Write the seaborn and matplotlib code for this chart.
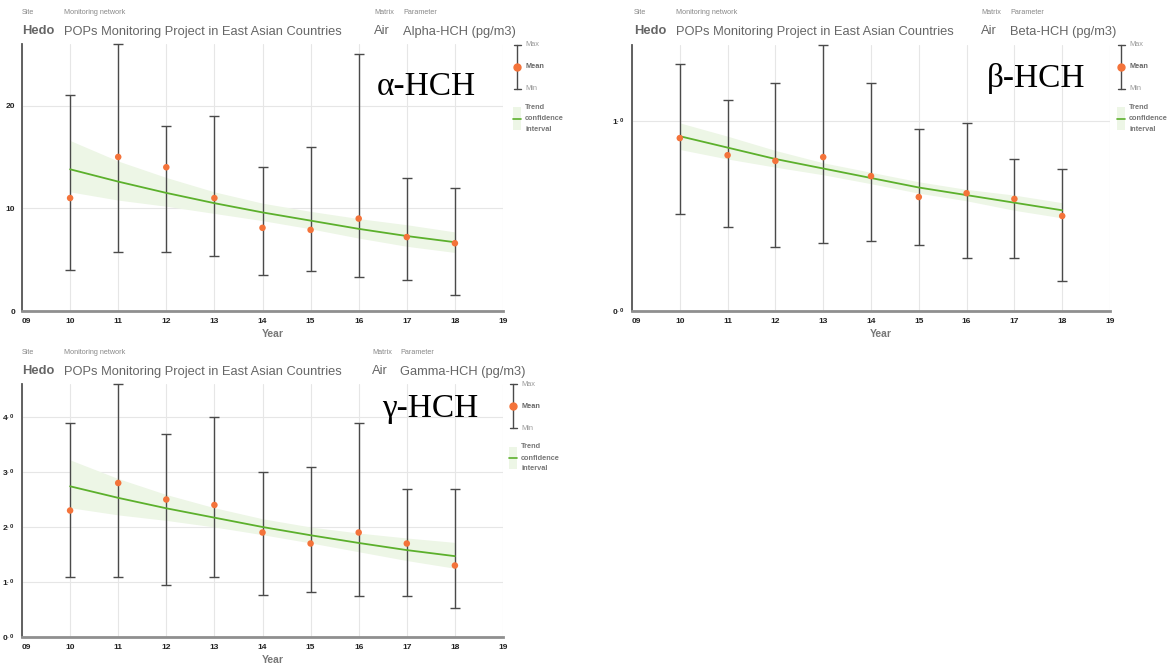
import matplotlib
matplotlib.use("Agg")
import pandas as pd
import matplotlib.pyplot as plt
import seaborn as sns
from matplotlib.lines import Line2D
from matplotlib.patches import Rectangle

# ---- data ----
years = [2010, 2011, 2012, 2013, 2014, 2015, 2016, 2017, 2018]
axis_years = list(range(2009, 2020))

alpha_mean = [11.0, 15.0, 14.0, 11.0, 8.1, 7.9, 9.0, 7.2, 6.6]
alpha_max = [21.0, 26.0, 18.0, 19.0, 14.0, 16.0, 25.0, 13.0, 12.0]
alpha_min = [4.0, 5.7, 5.7, 5.4, 3.5, 3.9, 3.3, 3.0, 1.6]
alpha_trend = [13.8, 12.6, 11.5, 10.5, 9.6, 8.8, 8.0, 7.3, 6.7]
alpha_hi = [16.6, 14.6, 13.0, 11.6, 10.5, 9.7, 9.0, 8.4, 7.7]
alpha_lo = [11.6, 10.8, 10.2, 9.5, 8.8, 8.0, 7.1, 6.3, 5.7]

beta_mean = [0.91, 0.82, 0.79, 0.81, 0.71, 0.60, 0.62, 0.59, 0.50]
beta_max = [1.30, 1.11, 1.20, 1.40, 1.20, 0.96, 0.99, 0.80, 0.75]
beta_min = [0.51, 0.44, 0.335, 0.36, 0.37, 0.35, 0.28, 0.28, 0.16]
beta_trend = [0.92, 0.86, 0.80, 0.75, 0.70, 0.65, 0.61, 0.57, 0.53]
beta_hi = [0.99, 0.92, 0.845, 0.78, 0.73, 0.68, 0.64, 0.61, 0.57]
beta_lo = [0.85, 0.80, 0.757, 0.717, 0.67, 0.62, 0.58, 0.53, 0.49]

gamma_mean = [2.3, 2.8, 2.5, 2.4, 1.9, 1.7, 1.9, 1.7, 1.3]
gamma_max = [3.9, 4.6, 3.7, 4.0, 3.0, 3.1, 3.9, 2.7, 2.7]
gamma_min = [1.1, 1.1, 0.95, 1.1, 0.77, 0.81, 0.75, 0.75, 0.52]
gamma_trend = [2.74, 2.53, 2.34, 2.17, 2.00, 1.85, 1.71, 1.58, 1.47]
gamma_hi = [3.22, 2.88, 2.59, 2.35, 2.15, 2.00, 1.89, 1.80, 1.72]
gamma_lo = [2.35, 2.22, 2.12, 2.00, 1.86, 1.71, 1.55, 1.39, 1.25]

W, H = 1168, 666

ORANGE = "#f4733a"
GREEN = "#5cb02c"
BAND = "#edf6e6"
WHISKER = "#4a4a4a"

sns.set_theme(style="whitegrid")
plt.rcParams["font.family"] = ["Liberation Sans", "DejaVu Sans"]
plt.rcParams["mathtext.fontset"] = "custom"
plt.rcParams["mathtext.bf"] = "Liberation Sans:bold"
plt.rcParams["mathtext.rm"] = "Liberation Sans"

fig = plt.figure(figsize=(W / 100, H / 100), dpi=100)
fig.patch.set_facecolor("white")


def fx(x):
    return x / W


def fy(y):
    return 1 - y / H


def ftext(x, y, s, **kw):
    kw.setdefault("va", "center")
    kw.setdefault("ha", "left")
    fig.text(fx(x), fy(y), s, **kw)


def header(x0, y0, xs, param):
    # small captions
    ftext(x0, y0, "Site", fontsize=5.2, color="#888888")
    ftext(xs[0], y0, "Monitoring network", fontsize=5.2, color="#888888")
    ftext(xs[1], y0, "Matrix", fontsize=5.2, color="#888888")
    ftext(xs[2], y0, "Parameter", fontsize=5.2, color="#888888")
    # values
    ftext(x0, y0 + 19, "Hedo", fontsize=9.3, color="#666666", fontweight="bold")
    ftext(xs[0], y0 + 19, "POPs Monitoring Project in East Asian Countries",
          fontsize=9.3, color="#666666")
    ftext(xs[1], y0 + 19, "Air", fontsize=9.3, color="#666666")
    ftext(xs[2], y0 + 19, param, fontsize=9.3, color="#666666")


def legend(x, y):
    # errorbar symbol
    fig.add_artist(Line2D([fx(x), fx(x)], [fy(y), fy(y + 44)], color=WHISKER, lw=1.0))
    for yy in (y, y + 44):
        fig.add_artist(Line2D([fx(x - 3.5), fx(x + 3.5)], [fy(yy), fy(yy)],
                              color=WHISKER, lw=1.0))
    fig.add_artist(Line2D([fx(x)], [fy(y + 22)], marker="o", ms=5, color=ORANGE, lw=0))
    ftext(x + 8, y, "Max", fontsize=5.3, color="#999999")
    ftext(x + 8, y + 22, "Mean", fontsize=5.3, color="#666666", fontweight="bold")
    ftext(x + 8, y + 44, "Min", fontsize=5.3, color="#999999")
    # trend / confidence
    fig.add_artist(Rectangle((fx(x - 4), fy(y + 85)), fx(8), 22 / H,
                             facecolor=BAND, edgecolor="none"))
    fig.add_artist(Line2D([fx(x - 4), fx(x + 4)], [fy(y + 74), fy(y + 74)], color=GREEN, lw=1.2))
    ftext(x + 8, y + 63, "Trend", fontsize=5.3, color="#777777", fontweight="bold")
    ftext(x + 8, y + 74, "confidence", fontsize=5.3, color="#777777", fontweight="bold")
    ftext(x + 8, y + 85, "interval", fontsize=5.3, color="#777777", fontweight="bold")


def panel(box, mean, vmax, vmin, trend, lo, hi, ylim, yticks, yticklabels, tag, tag_xy):
    left, top, right, bottom = box
    ax = fig.add_axes([fx(left), fy(bottom), (right - left) / W, (bottom - top) / H])
    ax.set_facecolor("white")

    df = pd.DataFrame({"year": years, "mean": mean, "max": vmax, "min": vmin,
                       "trend": trend, "lo": lo, "hi": hi})

    ax.fill_between(df["year"], df["lo"], df["hi"], color=BAND, lw=0, zorder=1)
    ax.errorbar(df["year"], df["mean"],
                yerr=[df["mean"] - df["min"], df["max"] - df["mean"]],
                fmt="none", ecolor=WHISKER, elinewidth=1.0, capsize=3.6,
                capthick=1.0, zorder=3, clip_on=False)
    sns.lineplot(data=df, x="year", y="trend", ax=ax, color=GREEN, lw=1.3, zorder=4)
    sns.scatterplot(data=df, x="year", y="mean", ax=ax, color=ORANGE, s=22,
                    edgecolor="none", zorder=5, clip_on=False)

    ax.set_xlim(2009, 2019)
    ax.set_ylim(*ylim)
    ax.set_xticks(axis_years)
    ax.set_xticklabels([str(y)[2:] for y in axis_years])
    ax.set_yticks(yticks)
    ax.set_yticklabels(yticklabels)
    ax.set_xlabel("")
    ax.set_ylabel("")

    ax.grid(True, color="#e6e6e6", lw=0.8)
    for s in ("top", "right"):
        ax.spines[s].set_visible(False)
    ax.spines["left"].set_color("#555555")
    ax.spines["left"].set_linewidth(1.3)
    ax.spines["bottom"].set_color("#8f8f8f")
    ax.spines["bottom"].set_linewidth(2.0)
    ax.tick_params(axis="both", length=3, width=1, color="#222222", pad=2,
                   labelsize=6, labelcolor="#222222")
    for lab in ax.get_xticklabels() + ax.get_yticklabels():
        lab.set_fontweight("bold")
    ax.get_xticklabels()[0].set_horizontalalignment("left")

    fig.text(fx(tag_xy[0]), fy(tag_xy[1]), tag, fontsize=24, family="Liberation Serif",
             ha="center", va="center", color="black")
    fig.text(fx((left + right) / 2 + 10), fy(bottom + 23), "Year", fontsize=7.5,
             fontweight="bold", color="#777777", ha="center", va="center")
    return ax


# ---- alpha-HCH ----
header(22, 12.5, (64.5, 374, 403), "Alpha-HCH (pg/m3)")
panel((22, 44, 503, 311), alpha_mean, alpha_max, alpha_min, alpha_trend, alpha_lo, alpha_hi,
      (0, 26), [0, 10, 20], ["0", "10", "20"], "α-HCH", (426, 87))
legend(517, 44.5)

# ---- beta-HCH ----
header(634, 12.5, (675.5, 981, 1010), "Beta-HCH (pg/m3)")
panel((632, 45, 1110, 311), beta_mean, beta_max, beta_min, beta_trend, beta_lo, beta_hi,
      (0, 1.4), [0, 1], [r"$\mathbf{0^{.0}}$", r"$\mathbf{1^{.0}}$"], "β-HCH", (1036, 79))
legend(1121, 44.5)

# ---- gamma-HCH ----
header(22, 352.5, (63.5, 372, 400), "Gamma-HCH (pg/m3)")
panel((22, 384, 503, 637), gamma_mean, gamma_max, gamma_min, gamma_trend, gamma_lo, gamma_hi,
      (0, 4.6), [0, 1, 2, 3, 4],
      [r"$\mathbf{%d^{.0}}$" % v for v in range(5)], "γ-HCH", (430, 409))
legend(513, 384)

fig.savefig("out.png", dpi=100, facecolor="white")
